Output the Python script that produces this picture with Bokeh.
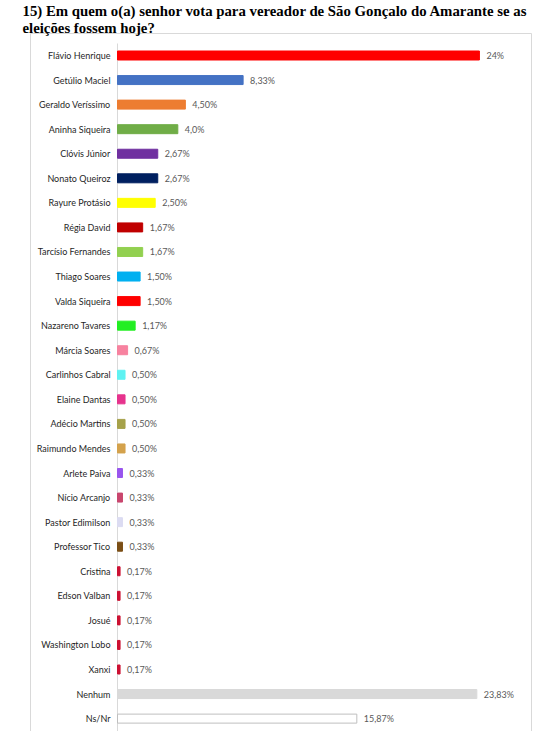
from bokeh.plotting import figure
from bokeh.models import Range1d, ColumnDataSource
from bokeh.core.properties import value
from bokeh.embed import file_html
from bokeh.resources import INLINE

# ---- data ----
names = ["Flávio Henrique", "Getúlio Maciel", "Geraldo Veríssimo", "Aninha Siqueira",
         "Clóvis Júnior", "Nonato Queiroz", "Rayure Protásio", "Régia David",
         "Tarcísio Fernandes", "Thiago Soares", "Valda Siqueira", "Nazareno Tavares",
         "Márcia Soares", "Carlinhos Cabral", "Elaine Dantas", "Adécio Martins",
         "Raimundo Mendes", "Arlete Paiva", "Nício Arcanjo", "Pastor Edimilson",
         "Professor Tico", "Cristina", "Edson Valban", "Josué", "Washington Lobo",
         "Xanxi", "Nenhum", "Ns/Nr"]
values = [24, 8.33, 4.50, 4.0, 2.67, 2.67, 2.50, 1.67, 1.67, 1.50, 1.50, 1.17,
          0.67, 0.50, 0.50, 0.50, 0.50, 0.33, 0.33, 0.33, 0.33,
          0.17, 0.17, 0.17, 0.17, 0.17, 23.83, 15.87]
value_labels = ["24%", "8,33%", "4,50%", "4,0%", "2,67%", "2,67%", "2,50%", "1,67%",
                "1,67%", "1,50%", "1,50%", "1,17%", "0,67%", "0,50%", "0,50%", "0,50%",
                "0,50%", "0,33%", "0,33%", "0,33%", "0,33%", "0,17%", "0,17%", "0,17%",
                "0,17%", "0,17%", "23,83%", "15,87%"]
colors = ["#FF0000", "#4472C4", "#ED7D31", "#70AD47", "#7030A0", "#002060", "#FFFF00",
          "#C00000", "#92D050", "#00B0F0", "#FF0000", "#22EE22", "#F7829F", "#5EF2F2",
          "#E6338D", "#A6A24A", "#D4A24C", "#9955EE", "#C9466E", "#DCDCF2", "#7B4F16",
          "#CC1133", "#CC1133", "#CC1133", "#CC1133", "#CC1133", "#D9D9D9", "#FFFFFF"]
title_lines = ["15) Em quem o(a) senhor vota para vereador de São Gonçalo do Amarante se as",
               "eleições fossem hoje?"]

# ---- layout constants (pixels) ----
W, H = 547, 731
PX = 15.08          # pixels per percentage point
ROW = 24.56         # pixels per row
AXIS_X = 117        # category axis position
ROW0 = 55           # first row centre

rows = list(range(len(names)))
outline = ["#BFBFBF" if c == "#FFFFFF" else c for c in colors]
src = ColumnDataSource(dict(y=rows, v=values, name=names, lab=value_labels,
                            color=colors, lc=outline))

p = figure(width=W, height=H, output_backend="svg", toolbar_location=None,
           x_range=Range1d(-AXIS_X / PX, (W - AXIS_X) / PX),
           y_range=Range1d((H - ROW0) / ROW, -ROW0 / ROW),
           min_border=0)
p.axis.visible = False
p.grid.visible = False
p.outline_line_color = None
p.background_fill_color = "white"
p.border_fill_color = "white"


def xp(px):
    return (px - AXIS_X) / PX


def yp(py):
    return (py - ROW0) / ROW


# chart box (left, top, right; bottom runs off the page)
p.line(x=[xp(30), xp(30), xp(531), xp(531)], y=[yp(H + 20), yp(33), yp(33), yp(H + 20)],
       line_color="#D9D9D9", line_width=1)
# category axis line
p.segment(x0=[0], y0=[yp(43)], x1=[0], y1=[yp(H + 20)], line_color="#D9D9D9", line_width=1)

p.hbar(y="y", left=0, right="v", height=9 / ROW, fill_color="color",
       line_color="lc", line_width=1, source=src)

p.text(x=0, y="y", text="name", x_offset=-7, text_align="right", text_baseline="middle",
       text_font=value("Lato"), text_font_size="9px", text_color="#1F1F1F", source=src)
p.text(x="v", y="y", text="lab", x_offset=7, text_align="left", text_baseline="middle",
       text_font=value("Lato"), text_font_size="9px", text_color="#595959", source=src)

# title
p.text(x=[xp(22), xp(22)], y=[yp(10), yp(27)], text=title_lines, text_align="left",
       text_baseline="alphabetic", text_font=value("Liberation Serif"),
       text_font_style="bold", text_font_size="14.8px", text_color="#000000")

open("out.html", "w").write(file_html(p, INLINE))
